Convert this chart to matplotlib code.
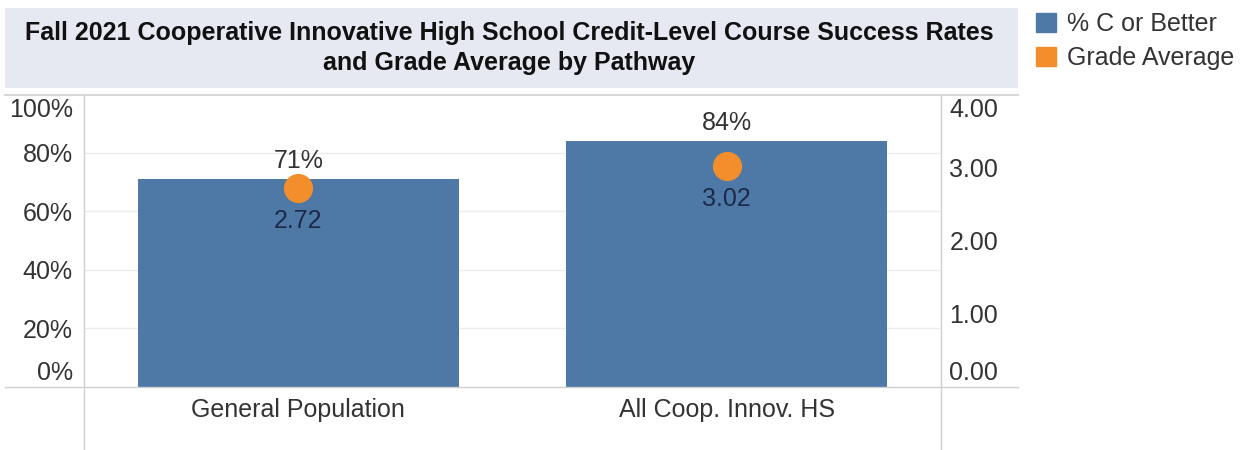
import matplotlib.pyplot as plt
from matplotlib.patches import Patch, Rectangle
from matplotlib.lines import Line2D
from matplotlib.transforms import ScaledTranslation

# Data
categories = ['General Population', 'All Coop. Innov. HS']
pct_c_or_better = [0.71, 0.84]
pct_labels = ['71%', '84%']
grade_avg = [2.72, 3.02]
grade_labels = ['2.72', '3.02']
left_ticks = [0, 0.2, 0.4, 0.6, 0.8, 1.0]
left_tick_labels = ['0%', '20%', '40%', '60%', '80%', '100%']
right_ticks = [0, 1, 2, 3, 4]
right_tick_labels = ['0.00', '1.00', '2.00', '3.00', '4.00']

blue = '#4e79a7'
orange = '#f28e2b'
W, H = 1244, 450

plt.rcParams['font.family'] = ['Liberation Sans', 'DejaVu Sans']
fig = plt.figure(figsize=(W / 100, H / 100), dpi=100)

def fx(px):
    return px / W

def fy(py):
    return 1 - py / H

def shift(label, dy_px):
    # nudge an end tick label up/down, like Tableau keeps them inside the pane
    label.set_transform(label.get_transform()
                        + ScaledTranslation(0, dy_px / 100, fig.dpi_scale_trans))

# Title box
fig.add_artist(Rectangle((fx(5), fy(88)), fx(1018) - fx(5), fy(8) - fy(88),
                         transform=fig.transFigure, facecolor='#e6e9f1', edgecolor='none'))
fig.text(fx(509), fy(48),
         'Fall 2021 Cooperative Innovative High School Credit-Level Course Success Rates\n'
         'and Grade Average by Pathway',
         ha='center', va='center', fontsize=18, fontweight='bold', color='#111111',
         linespacing=1.3)

# Main axes
ax = fig.add_axes([fx(84), fy(387), fx(941) - fx(84), fy(94) - fy(387)])
x = range(len(categories))
ax.bar(x, pct_c_or_better, width=0.75, color=blue, zorder=2)
ax.set_xlim(-0.5, 1.5)
ax.set_ylim(0, 1)
for g in left_ticks[1:-1]:
    ax.axhline(g, color='#ececec', lw=1, zorder=0)
ax.set_yticks(left_ticks, left_tick_labels)
ax.set_xticks(list(x), categories)
ax.tick_params(axis='y', length=0, pad=8, labelsize=18, labelcolor='#333333')
ax.tick_params(axis='x', length=0, pad=8, labelsize=18, labelcolor='#333333')
ylabs = ax.get_yticklabels()
ylabs[0].set_va('bottom')
shift(ylabs[0], 2)
ylabs[-1].set_va('top')
shift(ylabs[-1], -4)
for s in ax.spines.values():
    s.set_visible(False)

for i, (v, lab) in enumerate(zip(pct_c_or_better, pct_labels)):
    ax.annotate(lab, (i, v), xytext=(0, 13), textcoords='offset points',
                ha='center', va='center', fontsize=18, color='#333333')

# Secondary axis for grade average
ax2 = ax.twinx()
ax2.set_ylim(0, 4)
ax2.plot(list(x), grade_avg, 'o', color=orange, markersize=20, zorder=3)
ax2.set_yticks(right_ticks, right_tick_labels)
ax2.tick_params(axis='y', length=0, pad=6, labelsize=18, labelcolor='#333333')
rlabs = ax2.get_yticklabels()
rlabs[0].set_va('bottom')
shift(rlabs[0], 2)
rlabs[-1].set_va('top')
shift(rlabs[-1], -4)
for s in ax2.spines.values():
    s.set_visible(False)
for i, (v, lab) in enumerate(zip(grade_avg, grade_labels)):
    ax2.annotate(lab, (i, v), xytext=(0, -24), textcoords='offset points',
                 ha='center', va='center', fontsize=18, color='#1c2a48')

# Frame lines
line_col = '#cfcfcf'
fig.add_artist(Line2D([fx(5), fx(1018)], [fy(95), fy(95)], color='#d8d8d8', lw=1.5))
fig.add_artist(Line2D([fx(5), fx(1018)], [fy(387), fy(387)], color=line_col, lw=1))
fig.add_artist(Line2D([fx(84), fx(84)], [fy(95), fy(450)], color=line_col, lw=1))
fig.add_artist(Line2D([fx(941), fx(941)], [fy(95), fy(450)], color=line_col, lw=1))

# Legend
handles = [Patch(color=blue), Patch(color=orange)]
fig.legend(handles, ['% C or Better', 'Grade Average'], loc='upper left',
           bbox_to_anchor=(fx(1036), fy(12)), frameon=False, fontsize=18,
           handlelength=0.8, handleheight=0.8, handletextpad=0.45,
           labelspacing=0.4, borderpad=0, borderaxespad=0, labelcolor='#333333')

fig.savefig('out.png', dpi=100)
